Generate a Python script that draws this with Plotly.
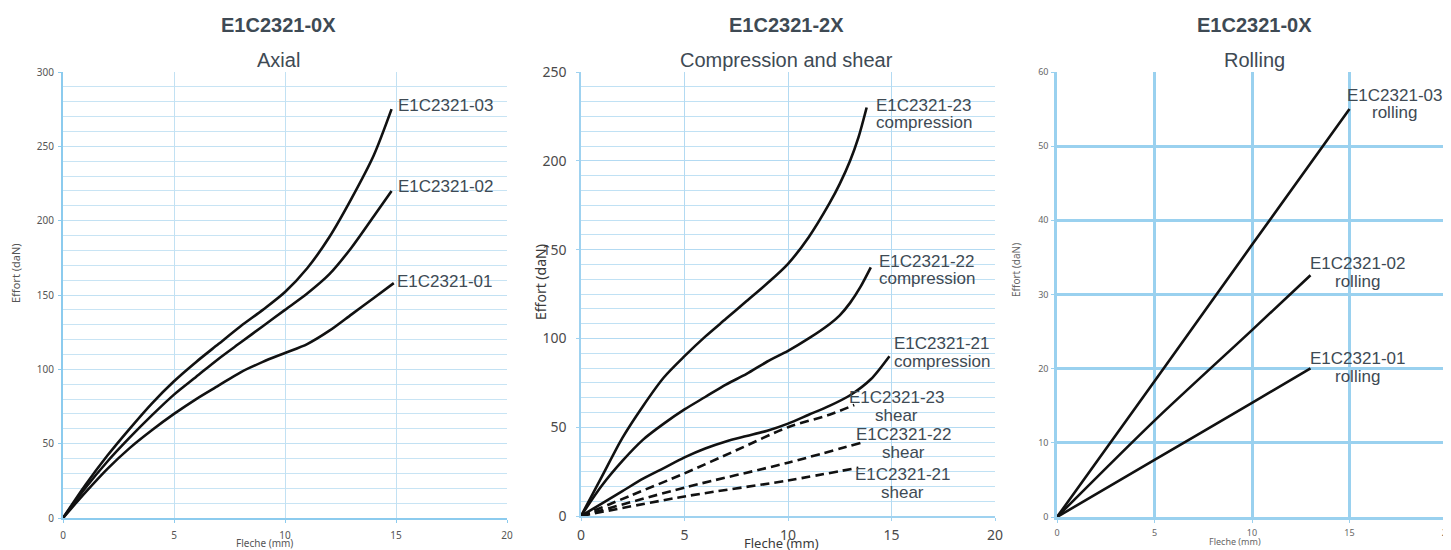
import plotly.graph_objects as go

# ---------------- data ----------------
# Axial (E1C2321-0X)
axial_x = [0, 1, 2, 3, 4, 5, 6, 7, 8, 9, 10, 11, 12, 13, 14, 14.8]
axial_03 = [0, 22, 42, 60, 77, 92, 105, 117, 129, 140, 152, 168, 189, 215, 244, 275]
axial_02 = [0, 20, 38, 54, 69, 83, 95, 107, 118, 129, 140, 151, 164, 182, 203, 220]
axial_01_x = [0, 1, 2, 3, 4, 5, 6, 7, 8, 9, 10, 11, 12, 13, 14, 14.9]
axial_01 = [0, 17, 33, 47, 59, 70, 80, 89, 98, 105, 111, 117, 126, 137, 148, 158]

# Compression and shear (E1C2321-2X)
comp23_x = [0, 1, 2, 3, 4, 5, 6, 7, 8, 9, 10, 11, 12, 12.5, 13, 13.4, 13.8]
comp23 = [0, 22, 44, 62, 78, 90, 101, 111, 121, 131, 142, 157, 176, 187, 200, 213, 230]
comp22_x = [0, 1, 2, 3, 4, 5, 6, 7, 8, 9, 10, 11, 12, 12.5, 13, 13.5, 14.0]
comp22 = [0, 17, 31, 43, 52, 60, 67, 74, 80, 87, 93, 100, 108, 113, 120, 129, 140]
comp21_x = [0, 1, 2, 3, 4, 5, 6, 7, 8, 9, 10, 11, 12, 13, 14, 14.9]
comp21 = [0, 7, 14, 21, 27, 33, 38, 42, 45, 48, 52, 57, 62, 68, 77, 90]
shear23_x = [0, 2.5, 5, 7.5, 10, 12, 13.2]
shear23 = [0, 12, 24, 37, 50, 57, 62.5]
shear22_x = [0, 5, 10, 13.6]
shear22 = [0, 16, 30, 41.5]
shear21_x = [0, 5, 10, 13.4]
shear21 = [0, 11, 20, 27.2]

# Rolling (E1C2321-0X)
roll03_x = [0, 5, 10, 15]
roll03 = [0, 18.3, 36.7, 55]
roll02_x = [0, 5, 10, 13]
roll02 = [0, 13, 25.2, 32.6]
roll01_x = [0, 5, 10, 13]
roll01 = [0, 7.7, 15.4, 20.05]

titles = ["E1C2321-0X", "E1C2321-2X", "E1C2321-0X"]
subtitles = ["Axial", "Compression and shear", "Rolling"]
x_title = "Fleche (mm)"
y_title = "Effort (daN)"

# ---------------- figure ----------------
W, H = 1451, 550
OFF = 8  # page body margin: figure is drawn 8px right/down of the window corner
fig = go.Figure()


def add_line(x, y, xa, ya, dash="solid"):
    fig.add_trace(go.Scatter(
        x=x, y=y, xaxis=xa, yaxis=ya, mode="lines",
        line=dict(color="#111111", width=2.6, shape="spline", smoothing=0.8, dash=dash),
        showlegend=False, hoverinfo="skip"))


add_line(axial_x, axial_03, "x", "y")
add_line(axial_x, axial_02, "x", "y")
add_line(axial_01_x, axial_01, "x", "y")

add_line(comp23_x, comp23, "x2", "y2")
add_line(comp22_x, comp22, "x2", "y2")
add_line(comp21_x, comp21, "x2", "y2")
add_line(shear23_x, shear23, "x2", "y2", dash="9px,5px")
add_line(shear22_x, shear22, "x2", "y2", dash="9px,5px")
add_line(shear21_x, shear21, "x2", "y2", dash="9px,5px")

add_line(roll03_x, roll03, "x3", "y3")
add_line(roll02_x, roll02, "x3", "y3")
add_line(roll01_x, roll01, "x3", "y3")


def px_x(p):
    return (p - OFF) / W


def px_y(p):
    return 1 - (p - OFF) / H


TXT = "#3e4a54"
LBL_FONT = dict(family="Liberation Sans, Arial", size=17, color=TXT)

annotations = []

# panel titles
title_x = [278, 787, 1254]
for tx, t, s in zip(title_x, titles, subtitles):
    annotations.append(dict(xref="paper", yref="paper", x=px_x(tx), y=px_y(25), text="<b>" + t + "</b>",
                            showarrow=False, xanchor="center", yanchor="middle",
                            font=dict(family="Liberation Sans, Arial", size=20, color=TXT)))
    annotations.append(dict(xref="paper", yref="paper", x=px_x(tx), y=px_y(60), text=s,
                            showarrow=False, xanchor="center", yanchor="middle",
                            font=dict(family="Liberation Sans, Arial", size=20, color=TXT)))

# axis titles
axis_titles = [
    (264, 543, 15, 273, 10, "#555555"),
    (781, 543, 540, 282, 13, "#3a3a3a"),
    (1235, 541, 1016, 270, 9, "#666666"),
]
for fx, fy, ex, ey, sz, col in axis_titles:
    annotations.append(dict(xref="paper", yref="paper", x=px_x(fx), y=px_y(fy), text=x_title,
                            showarrow=False, xanchor="center", yanchor="middle",
                            font=dict(family="Noto Sans", size=sz, color=col)))
    annotations.append(dict(xref="paper", yref="paper", x=px_x(ex), y=px_y(ey), text=y_title,
                            showarrow=False, xanchor="center", yanchor="middle", textangle=-90,
                            font=dict(family="Noto Sans", size=sz + 1, color=col)))


def label(xr, yr, x, y, lines, dx, dys, anchor):
    for ln, dy in zip(lines, dys):
        annotations.append(dict(xref=xr, yref=yr, x=x, y=y, text=ln, showarrow=False,
                                xanchor=anchor, yanchor="middle", xshift=dx, yshift=-dy,
                                font=LBL_FONT))


# axial labels
label("x", "y", axial_x[-1], axial_03[-1], ["E1C2321-03"], 4, [-4], "left")
label("x", "y", axial_x[-1], axial_02[-1], ["E1C2321-02"], 4, [-4], "left")
label("x", "y", axial_01_x[-1], axial_01[-1], ["E1C2321-01"], 1, [-2], "left")

# compression / shear labels
label("x2", "y2", comp23_x[-1], comp23[-1], ["E1C2321-23", "compression"], 7, [-2.5, 15], "left")
label("x2", "y2", comp22_x[-1], comp22[-1], ["E1C2321-22", "compression"], 6, [-6, 11.5], "left")
label("x2", "y2", comp21_x[-1], comp21[-1], ["E1C2321-21", "compression"], 3, [-12.5, 5], "left")
label("x2", "y2", shear23_x[-1], shear23[-1], ["E1C2321-23", "shear"], 42, [-7.5, 10], "center")
label("x2", "y2", shear22_x[-1], shear22[-1], ["E1C2321-22", "shear"], 41, [-7.5, 10.5], "center")
label("x2", "y2", shear21_x[-1], shear21[-1], ["E1C2321-21", "shear"], 44, [6.5, 25], "center")

# rolling labels
label("x3", "y3", roll03_x[-1], roll03[-1], ["E1C2321-03", "rolling"], 45, [-13.5, 3.5], "center")
label("x3", "y3", roll02_x[-1], roll02[-1], ["E1C2321-02", "rolling"], 47, [-11.5, 6.5], "center")
label("x3", "y3", roll01_x[-1], roll01[-1], ["E1C2321-01", "rolling"], 47, [-10, 8.5], "center")

# ---------------- axes ----------------
ytop = px_y(72)


def xaxis(dom, anchor, grid, gw, line, lw, tf, standoff):
    return dict(domain=dom, anchor=anchor, range=[0, 20], dtick=5, tick0=0,
                showgrid=True, gridcolor=grid, gridwidth=gw, zeroline=False,
                showline=True, linecolor=line, linewidth=lw,
                ticks="outside", ticklen=3, tickcolor=line, tickfont=tf,
                ticklabelstandoff=standoff, automargin=False, fixedrange=True)


def yaxis(dom, anchor, rng, dt, grid, gw, line, lw, tf, standoff, minor=None):
    d = dict(domain=dom, anchor=anchor, range=rng, dtick=dt, tick0=0,
             showgrid=True, gridcolor=grid, gridwidth=gw, zeroline=False,
             showline=True, linecolor=line, linewidth=lw,
             ticks="outside", ticklen=3, tickcolor=line, tickfont=tf,
             ticklabelstandoff=standoff, automargin=False, fixedrange=True)
    if minor:
        d["minor"] = minor
    return d


left_tf = dict(family="Noto Sans", size=10, color="#555555")
mid_tf = dict(family="Noto Sans", size=14, color="#4a4a4a")
right_tf = dict(family="Noto Sans", size=9, color="#666666")

fig.update_layout(
    width=W, height=H,
    margin=dict(l=0, r=0, t=0, b=0, pad=0, autoexpand=False),
    paper_bgcolor="white", plot_bgcolor="white",
    showlegend=False,
    xaxis=xaxis([px_x(63), px_x(507)], "y", "#c2e1f3", 1, "#8ccbee", 2, left_tf, 4),
    yaxis=yaxis([px_y(518), ytop], "x", [0, 300], 50, "#c2e1f3", 1, "#8ccbee", 2, left_tf, 2,
                minor=dict(dtick=10, showgrid=True, gridcolor="#c8e4f4", gridwidth=1, ticks="")),
    xaxis2=xaxis([px_x(581), px_x(995)], "y2", "#b3daf2", 1, "#9fd2f0", 1.5, mid_tf, 2),
    yaxis2=yaxis([px_y(516), ytop], "x2", [0, 250], 50, "#b3daf2", 1, "#9fd2f0", 1.5, mid_tf, 7,
                 minor=dict(dtick=50 / 6, showgrid=True, gridcolor="#c0e1f4", gridwidth=1, ticks="")),
    xaxis3=xaxis([px_x(1057), px_x(1447)], "y3", "#9ad1ef", 2.5, "#9ad1ef", 2.5, right_tf, 2),
    yaxis3=yaxis([px_y(517), ytop], "x3", [0, 60], 10, "#9ad1ef", 2.5, "#9ad1ef", 2.5, right_tf, 1),
    annotations=annotations,
)

fig.write_html("out.html")
